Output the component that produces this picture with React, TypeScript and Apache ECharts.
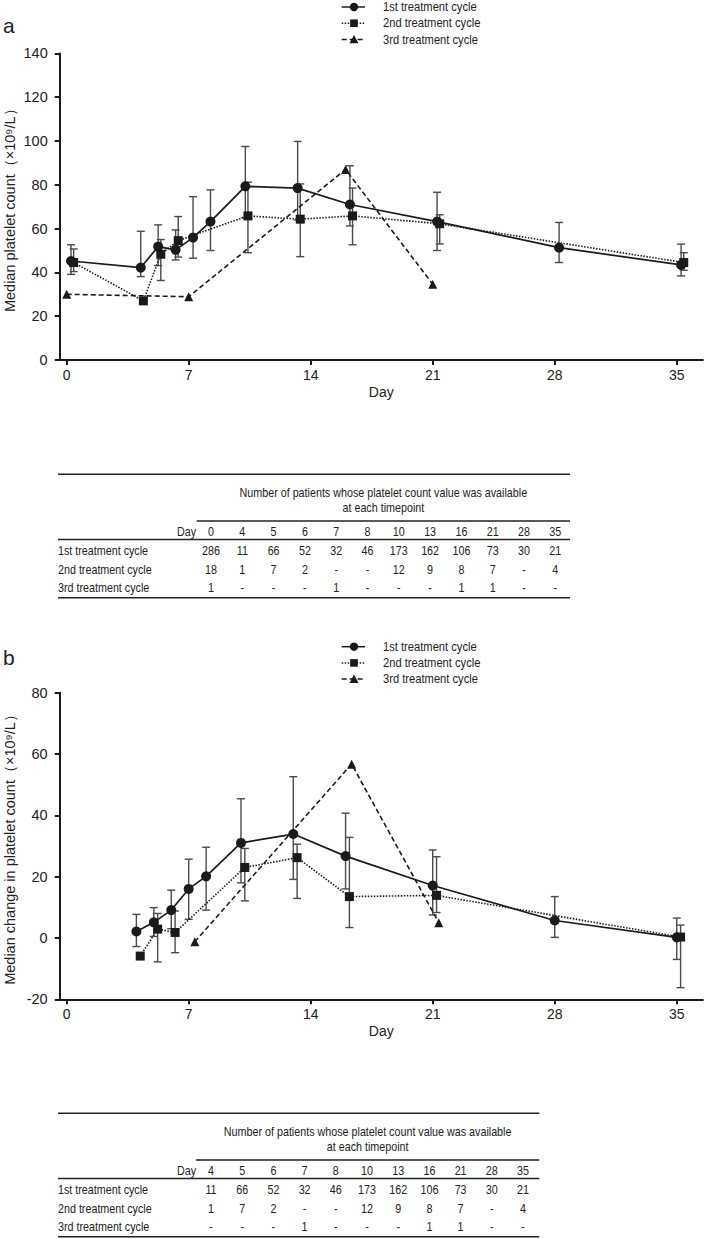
import React, { useEffect, useRef } from "react";
import * as echarts from "echarts";

const FONT = '"Liberation Sans", Arial, Helvetica, sans-serif';
const INK = "#1a1a1a";
const ERR = "#4a4a4a";
const NARROW_SCALE = 0.86;

const seriesNames = ["1st treatment cycle", "2nd treatment cycle", "3rd treatment cycle"];
const xTicks = [0, 7, 14, 21, 28, 35];

// ---- Panel a: median platelet count ----
const daysA1 = [0, 4, 5, 6, 7, 8, 10, 13, 16, 21, 28, 35];
const medA1 = [45.2, 42.2, 51.8, 50.3, 55.9, 63.2, 79.3, 78.5, 71.0, 63.2, 51.3, 43.4];
const lowA1 = [39.1, 38.1, 43.1, 45.7, 46.5, 50.0, 65.0, 64.0, 61.2, 50.0, 44.5, 38.4];
const highA1 = [52.6, 58.8, 61.7, 59.4, 74.6, 77.7, 97.5, 99.8, 88.7, 76.6, 62.8, 52.9];

const daysA2 = [0, 4, 5, 6, 10, 13, 16, 21, 35];
const medA2 = [44.5, 27.0, 48.3, 54.5, 65.8, 64.3, 65.8, 62.2, 44.5];
const lowA2 = [40.4, null, 36.3, 47.0, 49.0, 47.2, 52.6, 53.0, 41.0];
const highA2 = [50.7, null, 55.0, 65.5, 81.2, 80.4, 78.5, 66.3, 49.0];

const daysA3 = [0, 7, 16, 21];
const medA3 = [30.0, 28.9, 87.0, 34.6];

// ---- Panel b: median change in platelet count ----
const daysB1 = [4, 5, 6, 7, 8, 10, 13, 16, 21, 28, 35];
const medB1 = [2.1, 5.1, 9.1, 16.0, 20.1, 31.0, 33.9, 26.7, 17.1, 5.7, 0.2];
const lowB1 = [-2.8, 0.5, 3.0, 6.1, 9.1, 18.0, 19.1, 16.0, 7.5, 0.2, -7.0];
const highB1 = [7.7, 9.9, 15.6, 25.7, 29.6, 45.4, 52.6, 40.7, 28.7, 13.5, 6.5];

const daysB2 = [4, 5, 6, 10, 13, 16, 21, 35];
const medB2 = [-5.9, 2.9, 1.8, 23.0, 26.2, 13.5, 13.9, 0.3];
const lowB2 = [null, -7.8, -4.8, 12.1, 12.9, 3.4, 8.3, -16.2];
const highB2 = [null, 8.0, 8.8, 29.2, 30.6, 32.8, 26.5, 4.2];

const daysB3 = [7, 16, 21];
const medB3 = [-1.2, 56.7, 5.0];

// ---- Tables: number of patients ----
const tableHeader = ["Number of patients whose platelet count value was available", "at each timepoint"];
const tableDaysA = ["0", "4", "5", "6", "7", "8", "10", "13", "16", "21", "28", "35"];
const nA1 = ["286", "11", "66", "52", "32", "46", "173", "162", "106", "73", "30", "21"];
const nA2 = ["18", "1", "7", "2", "-", "-", "12", "9", "8", "7", "-", "4"];
const nA3 = ["1", "-", "-", "-", "1", "-", "-", "-", "1", "1", "-", "-"];
const tableDaysB = ["4", "5", "6", "7", "8", "10", "13", "16", "21", "28", "35"];
const nB1 = ["11", "66", "52", "32", "46", "173", "162", "106", "73", "30", "21"];
const nB2 = ["1", "7", "2", "-", "-", "12", "9", "8", "7", "-", "4"];
const nB3 = ["-", "-", "-", "1", "-", "-", "-", "1", "1", "-", "-"];

// horizontal nudges of each cycle's markers (plot styling, as in the source figure)
const NUDGE_A = [0.25, 0.4, 0];
const NUDGE_B = [0, 0.22, 0.35];

const lineStyles: any[] = [
  { type: "solid", width: 1.7 },
  { type: [1.5, 1.5], width: 1.6 },
  { type: [5, 3], width: 1.6 },
];
const symbols = ["circle", "rect", "triangle"];
const symbolSizes = [10, 9, 9];

function renderErr(params: any, api: any) {
  const x = api.value(0);
  const lo = api.coord([x, api.value(1)]);
  const hi = api.coord([x, api.value(2)]);
  const w = 4;
  const st = { stroke: ERR, lineWidth: 1.4 };
  return {
    type: "group",
    children: [
      { type: "line", shape: { x1: lo[0], y1: lo[1], x2: hi[0], y2: hi[1] }, style: st },
      { type: "line", shape: { x1: hi[0] - w, y1: hi[1], x2: hi[0] + w, y2: hi[1] }, style: st },
      { type: "line", shape: { x1: lo[0] - w, y1: lo[1], x2: lo[0] + w, y2: lo[1] }, style: st },
    ],
  };
}

function lineSeries(idx: number, days: number[], med: number[], nudge: number, axis: number) {
  return {
    name: seriesNames[idx],
    type: "line",
    xAxisIndex: axis,
    yAxisIndex: axis,
    data: days.map((d, i) => [d + nudge, med[i]]),
    symbol: symbols[idx],
    symbolSize: symbolSizes[idx],
    showAllSymbol: true,
    lineStyle: { color: INK, ...lineStyles[idx] },
    itemStyle: { color: INK },
    z: 5,
  };
}

function errSeries(days: number[], lo: (number | null)[], hi: (number | null)[], nudge: number, axis: number) {
  const data: number[][] = [];
  days.forEach((d, i) => {
    if (lo[i] != null && hi[i] != null) data.push([d + nudge, lo[i] as number, hi[i] as number]);
  });
  return {
    type: "custom",
    xAxisIndex: axis,
    yAxisIndex: axis,
    renderItem: renderErr,
    data,
    encode: { x: 0, y: [1, 2] },
    z: 3,
    silent: true,
  };
}

function narrowText(s: string, x: number, y: number, align: string, size = 12.5) {
  return {
    type: "text",
    x,
    y,
    scaleX: NARROW_SCALE,
    style: { text: s, fill: "#222", font: `${size}px ${FONT}`, textAlign: align, textVerticalAlign: "middle" },
  };
}

function buildLegend(top: number) {
  const els: any[] = [];
  const x1 = 341.7, x2 = 365, mx = 354, tx = 383;
  seriesNames.forEach((name, i) => {
    const y = top + i * 16.2;
    els.push({
      type: "line",
      shape: { x1, y1: y, x2, y2: y },
      style: { stroke: INK, lineWidth: 1.5, lineDash: i === 0 ? null : (lineStyles[i].type as number[]) },
    });
    if (i === 0) els.push({ type: "circle", shape: { cx: mx, cy: y, r: 4.2 }, style: { fill: INK } });
    else if (i === 1) els.push({ type: "rect", shape: { x: mx - 3.8, y: y - 3.8, width: 7.6, height: 7.6 }, style: { fill: INK } });
    else els.push({ type: "polygon", shape: { points: [[mx, y - 4.5], [mx + 4.5, y + 3.8], [mx - 4.5, y + 3.8]] }, style: { fill: INK } });
    els.push(narrowText(name, tx, y, "left", 13));
  });
  return els;
}

function buildTable(top: number, left: number, right: number, partialLeft: number, colStart: number, colStep: number,
  days: string[], rows: string[][]) {
  const els: any[] = [];
  const ruleStyle = { stroke: "#222", lineWidth: 1.5 };
  const hline = (y: number, x1: number, x2: number) =>
    els.push({ type: "line", shape: { x1, y1: y, x2, y2: y }, style: ruleStyle });
  const txt = (s: string, x: number, y: number, align: string) => els.push(narrowText(s, x, y, align));
  hline(top, left, right);
  const hc = (partialLeft + right) / 2;
  txt(tableHeader[0], hc, top + 17.7, "center");
  txt(tableHeader[1], hc, top + 32.5, "center");
  hline(top + 46.7, partialLeft, right);
  txt("Day", colStart - 15, top + 56.5, "right");
  days.forEach((d, i) => txt(d, colStart + i * colStep, top + 56.5, "center"));
  hline(top + 65.3, left, right);
  const rowY = [top + 76, top + 95, top + 113];
  rows.forEach((r, k) => {
    txt(seriesNames[k], left, rowY[k], "left");
    r.forEach((v, i) => txt(v, colStart + i * colStep, rowY[k], "center"));
  });
  hline(top + 123.5, left, right);
  return els;
}

function xAxisCfg(grid: number) {
  return {
    type: "value",
    gridIndex: grid,
    min: -0.4,
    max: 36.5,
    name: "Day",
    nameLocation: "middle",
    nameGap: 25,
    nameMoveOverlap: false,
    nameTextStyle: { fontFamily: FONT, fontSize: 14, color: "#222" },
    axisLine: { show: true, onZero: false, lineStyle: { color: INK, width: 2 } },
    axisTick: { show: true, customValues: xTicks, length: 5, lineStyle: { color: INK, width: 2 } },
    axisLabel: { customValues: xTicks, fontFamily: FONT, fontSize: 14, color: "#222", margin: 8 },
    splitLine: { show: false },
  };
}

function yAxisCfg(grid: number, min: number, max: number, name: string) {
  return {
    type: "value",
    gridIndex: grid,
    min,
    max,
    interval: 20,
    name,
    nameLocation: "middle",
    nameRotate: 90,
    nameGap: 42,
    nameMoveOverlap: false,
    nameTextStyle: { fontFamily: FONT, fontSize: 14.5, color: "#222" },
    axisLine: { show: true, onZero: false, lineStyle: { color: INK, width: 2 } },
    axisTick: { show: true, length: 5, lineStyle: { color: INK, width: 2 } },
    axisLabel: { fontFamily: FONT, fontSize: 14.5, color: "#222", margin: 12 },
    splitLine: { show: false },
  };
}

export default function App() {
  const ref = useRef<HTMLDivElement>(null);
  useEffect(() => {
    if (!ref.current) return;
    const chart = echarts.init(ref.current, null, { renderer: "svg" });
    const graphic: any[] = [
      { type: "text", x: 3, y: 25, style: { text: "a", font: `21px ${FONT}`, fill: "#222", textVerticalAlign: "middle" } },
      { type: "text", x: 3, y: 657, style: { text: "b", font: `21px ${FONT}`, fill: "#222", textVerticalAlign: "middle" } },
      ...buildLegend(7),
      ...buildLegend(646.7),
      ...buildTable(474.3, 58, 570, 196.7, 211, 31.3, tableDaysA, [nA1, nA2, nA3]),
      ...buildTable(1113.3, 58, 539.3, 196, 211, 31.2, tableDaysB, [nB1, nB2, nB3]),
    ];
    chart.setOption({
      animation: false,
      backgroundColor: "#ffffff",
      grid: [
        { left: 59.7, top: 53.4, width: 643.2, height: 306.6, containLabel: false, outerBoundsMode: "none" },
        { left: 59.7, top: 692.7, width: 643.2, height: 306.6, containLabel: false, outerBoundsMode: "none" },
      ],
      xAxis: [xAxisCfg(0), xAxisCfg(1)],
      yAxis: [
        yAxisCfg(0, 0, 140, "Median platelet count（×10⁹/L）"),
        yAxisCfg(1, -20, 80, "Median change in platelet count（×10⁹/L）"),
      ],
      series: [
        errSeries(daysA1, lowA1, highA1, NUDGE_A[0], 0),
        errSeries(daysA2, lowA2, highA2, NUDGE_A[1], 0),
        lineSeries(0, daysA1, medA1, NUDGE_A[0], 0),
        lineSeries(1, daysA2, medA2, NUDGE_A[1], 0),
        lineSeries(2, daysA3, medA3, NUDGE_A[2], 0),
        errSeries(daysB1, lowB1, highB1, NUDGE_B[0], 1),
        errSeries(daysB2, lowB2, highB2, NUDGE_B[1], 1),
        lineSeries(0, daysB1, medB1, NUDGE_B[0], 1),
        lineSeries(1, daysB2, medB2, NUDGE_B[1], 1),
        lineSeries(2, daysB3, medB3, NUDGE_B[2], 1),
      ],
      graphic,
    });
    return () => chart.dispose();
  }, []);
  return (
    <div
      ref={ref}
      style={{ position: "absolute", left: 0, top: 0, width: 709, height: 1239, background: "#fff" }}
    />
  );
}
